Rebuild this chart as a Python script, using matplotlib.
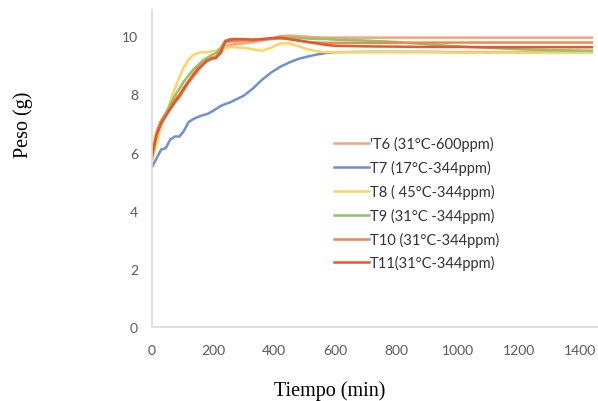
import matplotlib
matplotlib.use("Agg")
import matplotlib.pyplot as plt

tiempo = [0, 15, 30, 45, 60, 75, 90, 105, 120, 135, 150, 165, 180, 195, 210, 225, 240, 255, 270,
          300, 330, 360, 390, 420, 450, 480, 510, 540, 570, 600, 700, 800, 900, 1000, 1100, 1200,
          1300, 1440]

t6 = [5.9, 6.7, 7.1, 7.3, 7.5, 7.7, 7.9, 8.15, 8.4, 8.6, 8.8, 9.0, 9.15, 9.25, 9.3, 9.4, 9.65, 9.7, 9.72,
      9.75, 9.8, 9.85, 9.92, 10.0, 10.02, 10.0, 9.98, 9.96, 9.95, 9.95, 9.95, 9.95, 9.95, 9.95, 9.95, 9.95,
      9.95, 9.95]
t7 = [5.5, 5.8, 6.1, 6.15, 6.45, 6.55, 6.55, 6.75, 7.05, 7.15, 7.22, 7.28, 7.32, 7.4, 7.5, 7.6, 7.67, 7.72, 7.8,
      7.95, 8.2, 8.5, 8.75, 8.95, 9.1, 9.22, 9.3, 9.37, 9.42, 9.45, 9.46, 9.46, 9.46, 9.45, 9.45, 9.45,
      9.45, 9.45]
t8 = [5.7, 6.3, 6.9, 7.3, 7.75, 8.2, 8.6, 8.95, 9.2, 9.35, 9.42, 9.45, 9.45, 9.48, 9.5, 9.55, 9.6, 9.62, 9.62,
      9.6, 9.55, 9.5, 9.6, 9.75, 9.75, 9.65, 9.55, 9.48, 9.45, 9.45, 9.45, 9.45, 9.45, 9.44, 9.44, 9.44,
      9.44, 9.44]
t9 = [5.8, 6.6, 7.1, 7.35, 7.65, 7.95, 8.2, 8.45, 8.65, 8.85, 9.0, 9.15, 9.25, 9.35, 9.42, 9.6, 9.85, 9.9, 9.9,
      9.88, 9.88, 9.9, 9.92, 9.95, 9.95, 9.93, 9.92, 9.9, 9.9, 9.88, 9.85, 9.8, 9.72, 9.65, 9.6, 9.55,
      9.52, 9.5]
t10 = [5.95, 6.7, 7.05, 7.3, 7.55, 7.8, 8.0, 8.25, 8.45, 8.7, 8.9, 9.05, 9.2, 9.25, 9.3, 9.5, 9.8, 9.82, 9.82,
       9.85, 9.85, 9.88, 9.9, 9.92, 9.9, 9.85, 9.8, 9.78, 9.77, 9.77, 9.77, 9.77, 9.78, 9.78, 9.78, 9.78,
       9.78, 9.78]
t11 = [5.9, 6.6, 7.0, 7.25, 7.5, 7.75, 7.95, 8.2, 8.45, 8.65, 8.85, 9.0, 9.15, 9.22, 9.25, 9.45, 9.82, 9.88, 9.9,
       9.9, 9.88, 9.9, 9.93, 9.95, 9.9, 9.85, 9.8, 9.75, 9.7, 9.67, 9.65, 9.64, 9.63, 9.63, 9.62, 9.62,
       9.62, 9.62]

series = [t6, t7, t8, t9, t10, t11]
labels = ["'T6 (31°C-600ppm)", "T7 (17°C-344ppm)", "T8 ( 45°C-344ppm)", "T9 (31°C -344ppm)",
          "T10 (31°C-344ppm)", "T11(31°C-344ppm)"]
colors = ["#F2A57C", "#6E8FD6", "#FFD45E", "#8DC46C", "#E88A52", "#E5582E"]

x_ticks = [0, 200, 400, 600, 800, 1000, 1200, 1400]
y_ticks = [0, 2, 4, 6, 8, 10]

fig = plt.figure(figsize=(5.98, 4.02), dpi=100)
ax = fig.add_axes([152 / 598, 1 - 328 / 402, 446 / 598, 317 / 402])

for vals, lab, col in zip(series, labels, colors):
    ax.plot(tiempo, vals, color=col, lw=1.8, label=lab, solid_joinstyle="round")

ax.set_xlim(0, 1460)
ax.set_ylim(0, 10.9)
ax.set_xticks(x_ticks)
ax.set_yticks(y_ticks)
tick_font = dict(family="Lato", size=10)
ax.set_xticklabels([str(v) for v in x_ticks], color="#595959", **tick_font)
ax.set_yticklabels([str(v) for v in y_ticks], color="#595959", **tick_font)
ax.tick_params(length=0)
ax.tick_params(axis="x", pad=12)
ax.tick_params(axis="y", pad=10)
for s in ["top", "right"]:
    ax.spines[s].set_visible(False)
ax.spines["left"].set_color("#D9D9D9")
ax.spines["bottom"].set_color("#D9D9D9")
ax.spines["left"].set_linewidth(1.2)
ax.spines["bottom"].set_linewidth(1.2)

leg = ax.legend(loc="upper left", bbox_to_anchor=(327 / 598, 1 - 130 / 402),
                bbox_transform=fig.transFigure, frameon=False,
                prop=dict(family="Lato", size=10.5),
                handlelength=2.4, handletextpad=0.05, labelspacing=0.6, borderpad=0)
for t in leg.get_texts():
    t.set_color("#333333")

fig.text(23 / 598, 1 - 125 / 402, "Peso (g)", rotation=90, ha="center", va="center",
         family="Liberation Serif", size=14.5)
fig.text(330 / 598, 1 - 391 / 402, "Tiempo (min)", ha="center", va="center",
         family="Liberation Serif", size=14.5)

fig.savefig("out.png", dpi=100)
